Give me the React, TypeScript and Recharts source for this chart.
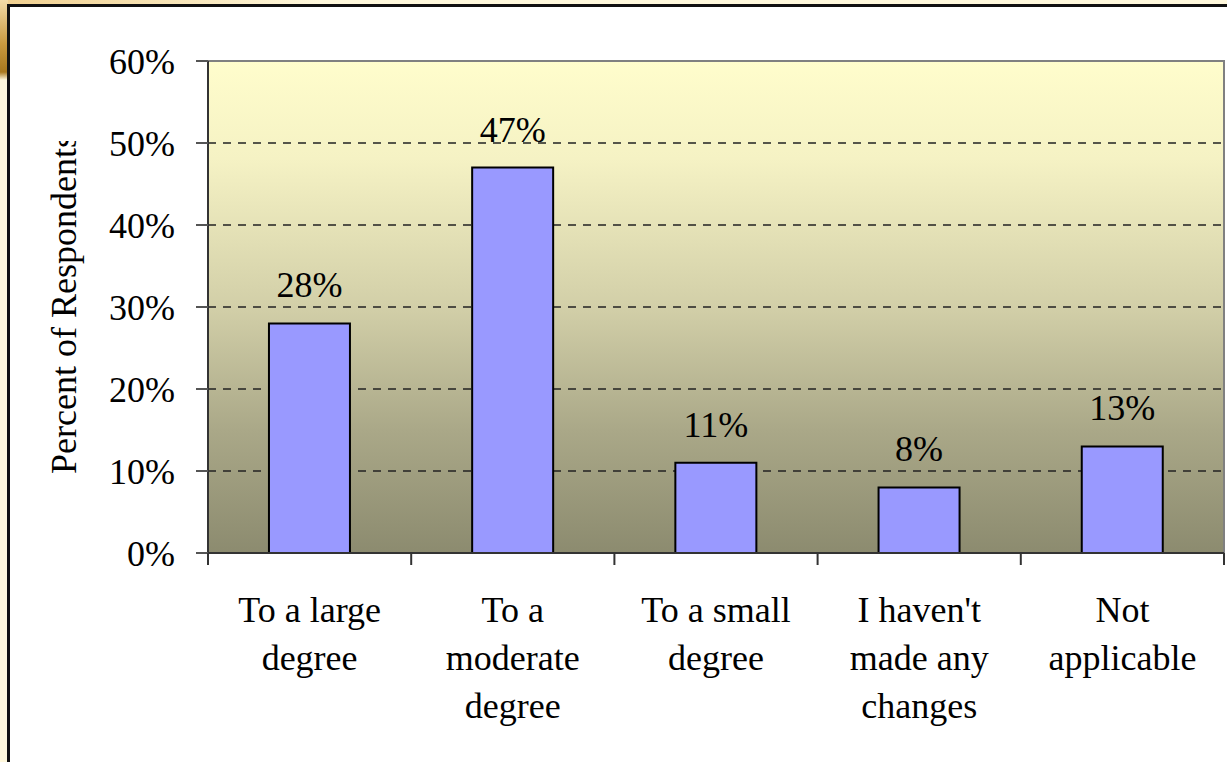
import { BarChart, Bar, XAxis, YAxis, CartesianGrid, LabelList, ReferenceArea, Label } from 'recharts';

const categories = [
  ['To a large', 'degree'],
  ['To a', 'moderate', 'degree'],
  ['To a small', 'degree'],
  ["I haven't", 'made any', 'changes'],
  ['Not', 'applicable'],
];
const percents = [28, 47, 11, 8, 13];
const yTicks = [0, 10, 20, 30, 40, 50, 60];

const data = categories.map((lines, i) => ({ name: lines.join(' '), lines, value: percents[i] }));

const FONT = '"Liberation Serif", "Times New Roman", serif';

// category label under each band, plus the tick marks on the band edges
function CategoryTick(props: any) {
  const { x, y, payload, index } = props;
  const half = payload.offset ?? 0;
  const lines = data[index]?.lines ?? [String(payload.value)];
  return (
    <g>
      <line x1={x - half} x2={x - half} y1={y} y2={y + 12} stroke="#333" strokeWidth={2} />
      {index === data.length - 1 && (
        <line x1={x + half} x2={x + half} y1={y} y2={y + 12} stroke="#333" strokeWidth={2} />
      )}
      <text x={x} y={y + 69} textAnchor="middle" fontFamily={FONT} fontSize={36} fill="#000">
        {lines.map((l: string, i: number) => (
          <tspan key={i} x={x} dy={i === 0 ? 0 : 48}>
            {l}
          </tspan>
        ))}
      </text>
    </g>
  );
}

// rotated axis title; the frame cuts off its last letter
function AxisTitle() {
  return (
    <g>
      <defs>
        <clipPath id="titleClip">
          <rect x={0} y={141} width={200} height={500} />
        </clipPath>
      </defs>
      <g clipPath="url(#titleClip)">
        <text
          x={76}
          y={304}
          transform="rotate(-90 76 304)"
          textAnchor="middle"
          fontFamily={FONT}
          fontSize={36}
          fill="#000"
        >
          Percent of Respondents
        </text>
      </g>
    </g>
  );
}

export default function App() {
  return (
    <div
      style={{
        position: 'absolute',
        left: 0,
        top: 0,
        width: 1227,
        height: 762,
        overflow: 'hidden',
        background: '#FFF8DC',
      }}
    >
      {/* slide backdrop behind the frame */}
      <div
        style={{
          position: 'absolute',
          left: 0,
          top: 0,
          width: 320,
          height: 5,
          background: 'linear-gradient(to right, #F0CF8E, #FFF8DC)',
        }}
      />
      <div
        style={{
          position: 'absolute',
          left: 0,
          top: 0,
          width: 8,
          height: 80,
          background: 'linear-gradient(to bottom, #F3DCA8, #C9993F 55%, #A8781E 90%, #FFF8DC)',
        }}
      />
      <div
        style={{
          position: 'absolute',
          left: 7,
          top: 4,
          width: 1300,
          height: 800,
          borderLeft: '3px solid #111',
          borderTop: '3px solid #111',
          background: '#fff',
        }}
      />
      <div style={{ position: 'absolute', left: 0, top: 0 }}>
        <BarChart
          width={1227}
          height={762}
          data={data}
          margin={{ top: 61, right: 3, bottom: 29, left: 0 }}
          barCategoryGap="30%"
        >
          <defs>
            <linearGradient id="plotBg" x1="0" y1="0" x2="0" y2="1">
              <stop offset="0%" stopColor="#FFFDCC" />
              <stop offset="20%" stopColor="#F5F2C4" />
              <stop offset="50%" stopColor="#D2CFA8" />
              <stop offset="75%" stopColor="#AAA888" />
              <stop offset="100%" stopColor="#8C8B6F" />
            </linearGradient>
          </defs>
          <CartesianGrid
            vertical={false}
            fill="url(#plotBg)"
            fillOpacity={1}
            stroke="#222"
            strokeWidth={1.5}
            strokeDasharray="8 7"
          />
          <ReferenceArea y1={0} y2={60} fill="none" stroke="#808080" strokeWidth={2} />
          <XAxis
            dataKey="name"
            height={180}
            interval={0}
            tickLine={false}
            tickSize={0}
            tickMargin={0}
            axisLine={{ stroke: '#333', strokeWidth: 2 }}
            tick={<CategoryTick />}
          />
          <YAxis
            width={208}
            domain={[0, 60]}
            ticks={yTicks}
            interval={0}
            tickFormatter={(v: number) => `${v}%`}
            tickSize={12}
            tickMargin={21}
            tickLine={{ stroke: '#555', strokeWidth: 2 }}
            axisLine={{ stroke: '#333', strokeWidth: 2 }}
            tick={{ fill: '#000', fontSize: 36, fontFamily: FONT }}
          >
            <Label content={() => <AxisTitle />} />
          </YAxis>
          <Bar dataKey="value" fill="#9999FF" stroke="#000" strokeWidth={2} isAnimationActive={false}>
            <LabelList
              dataKey="value"
              position="top"
              offset={26}
              fill="#000"
              fontSize={36}
              fontFamily={FONT}
              formatter={(v: any) => `${v}%`}
            />
          </Bar>
        </BarChart>
      </div>
    </div>
  );
}
